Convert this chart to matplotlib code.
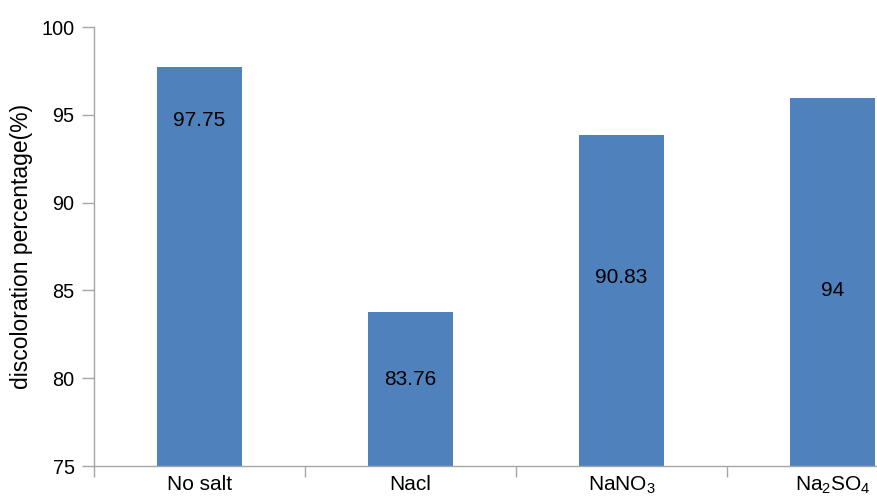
import matplotlib.pyplot as plt
import numpy as np

plt.rcParams['font.family'] = ['Liberation Sans', 'DejaVu Sans']

# data
categories = ['No salt', 'Nacl', r'$\mathregular{NaNO_3}$', r'$\mathregular{Na_2SO_4}$']
heights = [97.75, 83.76, 93.85, 95.96]
bar_labels = ['97.75', '83.76', '90.83', '94']

# where the value labels sit inside the bars (layout only)
label_y = [94.7, 79.9, 85.75, 85.0]

fig = plt.figure(figsize=(8.78, 4.96), dpi=100)
ax = fig.add_axes([94 / 878, 30 / 496, 844 / 878, 439 / 496])

x = np.arange(len(categories))
ax.bar(x, heights, width=0.4, color='#4f81bd', zorder=2)

for xi, yi, txt in zip(x, label_y, bar_labels):
    ax.text(xi, yi, txt, ha='center', va='center', fontsize=15, color='black', zorder=3)

ax.set_xlim(-0.5, 3.5)
ax.set_ylim(75, 100)
ax.set_yticks([75, 80, 85, 90, 95, 100])

ax.set_xticks(x)
ax.set_xticklabels(categories, fontsize=15)
ax.set_xticks(np.arange(-0.5, 4, 1), minor=True)
ax.tick_params(axis='x', which='major', length=0, pad=6.5)
ax.tick_params(axis='x', which='minor', length=8, color='#a6a6a6', width=1)
ax.tick_params(axis='y', length=9, color='#a6a6a6', width=1, labelsize=14.3, pad=5)

for side in ['top', 'right']:
    ax.spines[side].set_visible(False)
for side in ['left', 'bottom']:
    ax.spines[side].set_color('#a6a6a6')
    ax.spines[side].set_linewidth(1)

ax.set_ylabel('discoloration percentage(%)', fontsize=16.5, labelpad=6)

fig.savefig('out.png', dpi=100)
